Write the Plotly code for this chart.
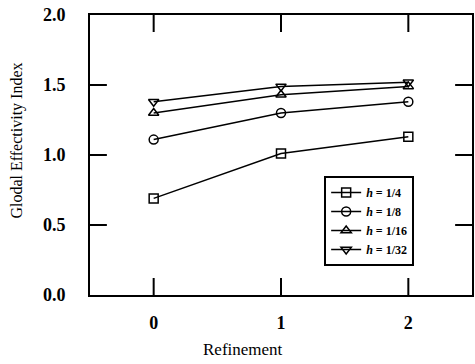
import plotly.graph_objects as go

refinement = [0, 1, 2]
h_labels = ["<b><i>h</i> = 1/4</b>", "<b><i>h</i> = 1/8</b>", "<b><i>h</i> = 1/16</b>", "<b><i>h</i> = 1/32</b>"]
idx_h4 = [0.69, 1.01, 1.13]
idx_h8 = [1.11, 1.30, 1.38]
idx_h16 = [1.30, 1.43, 1.49]
idx_h32 = [1.38, 1.49, 1.52]
symbols = ["square-open", "circle-open", "triangle-up-open", "triangle-down-open"]
y_ticks = [0.0, 0.5, 1.0, 1.5, 2.0]

serif = "Liberation Serif"
X_RANGE = [-0.5, 2.5]
Y_RANGE = [0.0, 2.0]
PLOT_W, PLOT_H = 385, 280
TICK_PX = 17

fig = go.Figure()

# inward tick marks on all four sides of the frame, sized in pixels via the axis scales
dx = TICK_PX * (X_RANGE[1] - X_RANGE[0]) / PLOT_W
dy = TICK_PX * (Y_RANGE[1] - Y_RANGE[0]) / PLOT_H
tx, ty = [], []
for v in refinement:
    tx += [v, v, None, v, v, None]
    ty += [Y_RANGE[0], Y_RANGE[0] + dy, None, Y_RANGE[1] - dy, Y_RANGE[1], None]
for v in y_ticks[1:-1]:
    tx += [X_RANGE[0], X_RANGE[0] + dx, None, X_RANGE[1] - dx, X_RANGE[1], None]
    ty += [v, v, None, v, v, None]
fig.add_trace(go.Scatter(x=tx, y=ty, mode="lines", line=dict(color="black", width=2),
                         showlegend=False, hoverinfo="skip"))

for name, vals, sym in zip(h_labels, [idx_h4, idx_h8, idx_h16, idx_h32], symbols):
    fig.add_trace(go.Scatter(
        x=refinement, y=vals, name=name, mode="lines+markers",
        line=dict(color="black", width=1.5),
        marker=dict(symbol=sym, size=9, color="black", line=dict(color="black", width=1.5)),
    ))

axis_common = dict(
    showgrid=False, zeroline=False, showline=True, linecolor="black", linewidth=2,
    mirror=True, ticks="",
    tickfont=dict(family=serif, size=18, color="black"),
)

fig.update_xaxes(range=X_RANGE, tickmode="array", tickvals=refinement,
                 ticktext=[f"<b>{v}</b>" for v in refinement], ticklabelstandoff=10, **axis_common)
fig.update_yaxes(range=Y_RANGE, tickmode="array", tickvals=y_ticks,
                 ticktext=[f"<b>{v:.1f}</b>" for v in y_ticks], ticklabelstandoff=19, **axis_common)

fig.add_annotation(text="Refinement", xref="paper", yref="paper", x=(244 - 90) / PLOT_W, y=-(338 - 295) / PLOT_H,
                   xanchor="center", yanchor="top", showarrow=False,
                   font=dict(family=serif, size=17, color="black"))
fig.add_annotation(text="Glodal Effectivity Index", xref="paper", yref="paper", x=-74 / PLOT_W,
                   y=(295 - 141) / PLOT_H, xanchor="center", yanchor="middle", textangle=-90, showarrow=False,
                   font=dict(family=serif, size=16, color="black"))

fig.update_layout(
    template="simple_white",
    width=475, height=364,
    margin=dict(l=90, r=1, t=15, b=69),
    paper_bgcolor="white", plot_bgcolor="white",
    legend=dict(
        x=(326 - 90) / PLOT_W, y=(295 - 176) / PLOT_H, xanchor="left", yanchor="top",
        bordercolor="black", borderwidth=2, bgcolor="white",
        font=dict(family=serif, size=12, color="black"),
        tracegroupgap=0,
    ),
)

fig.write_html("out.html")
